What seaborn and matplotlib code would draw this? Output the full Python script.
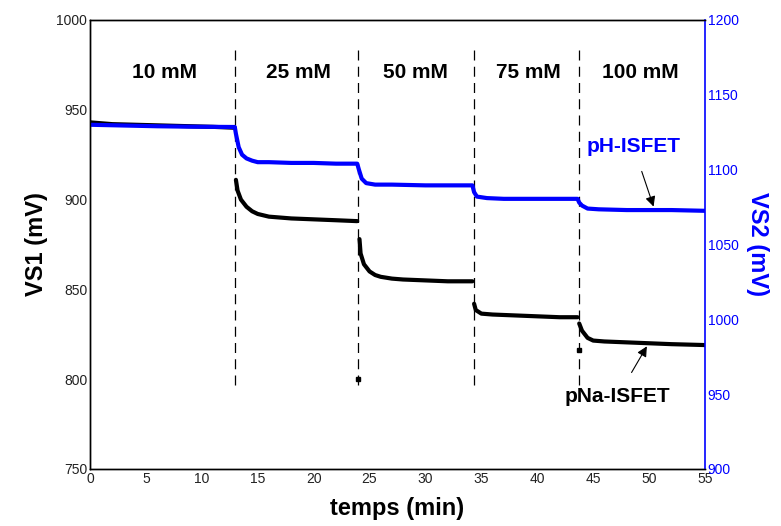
import numpy as np
import pandas as pd
import seaborn as sns
from matplotlib import pyplot as plt

# pNa-ISFET (VS1, left axis)
t_na = [0, 2, 5, 8, 11, 12.95,
        13.05, 13.2, 13.5, 14, 14.5, 15, 16, 17, 18, 20, 22, 23.9,
        24.1, 24.2, 24.5, 25, 25.5, 26, 27, 28, 30, 32, 34.2,
        34.35, 34.5, 35, 36, 38, 40, 42, 43.6,
        43.75, 44, 44.5, 45, 46, 48, 50, 52, 55]
vs1 = [943, 942, 941.5, 941, 940.5, 940,
       911, 905, 900, 896, 893.5, 892, 890.5, 890, 889.5, 889, 888.5, 888,
       878, 870, 864, 860, 858, 857, 856, 855.5, 855, 854.5, 854.5,
       842, 838.5, 836.5, 836, 835.5, 835, 834.5, 834.5,
       831, 827, 823, 821.5, 821, 820.5, 820, 819.5, 819]

# stray points of the pNa record
t_out = [24.0, 43.7]
vs1_out = [800, 816]

# pH-ISFET (VS2, right axis)
t_ph = [0, 3, 6, 9, 12.95,
        13.05, 13.3, 13.6, 14, 14.5, 15, 16, 18, 20, 22, 23.9,
        24.05, 24.3, 24.7, 25.5, 27, 30, 34.2,
        34.35, 34.6, 35.5, 37, 40, 43.6,
        43.75, 44, 44.5, 45.5, 48, 52, 55]
vs2 = [1130, 1129.5, 1129, 1128.7, 1128.5,
       1124, 1115, 1110, 1107.5, 1106, 1105, 1105, 1104.5, 1104.5, 1104, 1104,
       1100, 1094, 1091, 1090, 1090, 1089.5, 1089.5,
       1085, 1082, 1081, 1080.5, 1080.5, 1080.5,
       1078, 1076, 1074, 1073.5, 1073, 1073, 1072.5]

steps = [13, 24, 34.3, 43.7]
conc = ["10 mM", "25 mM", "50 mM", "75 mM", "100 mM"]
conc_x = [6.7, 18.6, 29.1, 39.2, 49.2]

na = pd.DataFrame({"t": t_na, "v": vs1})
na["seg"] = np.searchsorted(steps, na["t"])  # one piece per concentration
ph = pd.DataFrame({"t": t_ph, "v": vs2})

sns.set_style("white")
plt.rcParams['font.family'] = ['Liberation Sans', 'DejaVu Sans']
plt.rcParams['text.color'] = 'black'
plt.rcParams['axes.labelcolor'] = 'black'

fig = plt.figure(figsize=(7.81, 5.26), dpi=100)
ax = fig.add_axes([0.1152, 0.1084, 0.7875, 0.8536])
ax2 = ax.twinx()

sns.lineplot(data=na, x="t", y="v", units="seg", ax=ax, color="black", lw=3,
             sort=False, estimator=None)
ax.plot(t_out, vs1_out, "s", color="black", ms=3)
sns.lineplot(data=ph, x="t", y="v", ax=ax2, color="blue", lw=3, sort=False, estimator=None)

ax.vlines(steps, 797, 986, colors="black", linestyles=(0, (8, 5)), lw=0.9)

for x, s in zip(conc_x, conc):
    ax.text(x, 971, s, ha="center", va="center", fontsize=15, fontweight="bold")

ax.annotate("pH-ISFET", xy=(50.4, 896.1), xytext=(48.6, 929.4), ha="center", va="center",
            fontsize=15, fontweight="bold", color="blue",
            arrowprops=dict(arrowstyle="-|>", color="black", lw=0.8, shrinkA=9, shrinkB=0))
ax.annotate("pNa-ISFET", xy=(49.8, 818.3), xytext=(47.2, 790.6), ha="center", va="center",
            fontsize=15, fontweight="bold", color="black",
            arrowprops=dict(arrowstyle="-|>", color="black", lw=0.8, shrinkA=9, shrinkB=0))

ax.set_xlim(0, 55)
ax.set_ylim(750, 1000)
ax2.set_ylim(900, 1200)
ax.set_xticks(np.arange(0, 56, 5))
ax.set_yticks(np.arange(750, 1001, 50))
ax2.set_yticks(np.arange(900, 1201, 50))

ax.tick_params(axis="both", length=0, pad=2, labelsize=10, colors="#222222")
ax2.tick_params(axis="y", length=0, pad=2, labelsize=10, colors="blue")

ax.set_xlabel("temps (min)", fontsize=17, fontweight="bold", labelpad=8)
ax.set_ylabel("VS1 (mV)", fontsize=17, fontweight="bold", labelpad=6)
ax2.set_ylabel("VS2 (mV)", fontsize=17, fontweight="bold", color="blue", rotation=-90, labelpad=22)

for sp in ["left", "bottom", "top"]:
    ax.spines[sp].set_color("black")
    ax.spines[sp].set_linewidth(1)
    ax2.spines[sp].set_color("black")
    ax2.spines[sp].set_linewidth(1)
ax.spines["right"].set_visible(False)
ax2.spines["right"].set_color("blue")
ax2.spines["right"].set_linewidth(1.2)

fig.savefig("out.png", dpi=100)
